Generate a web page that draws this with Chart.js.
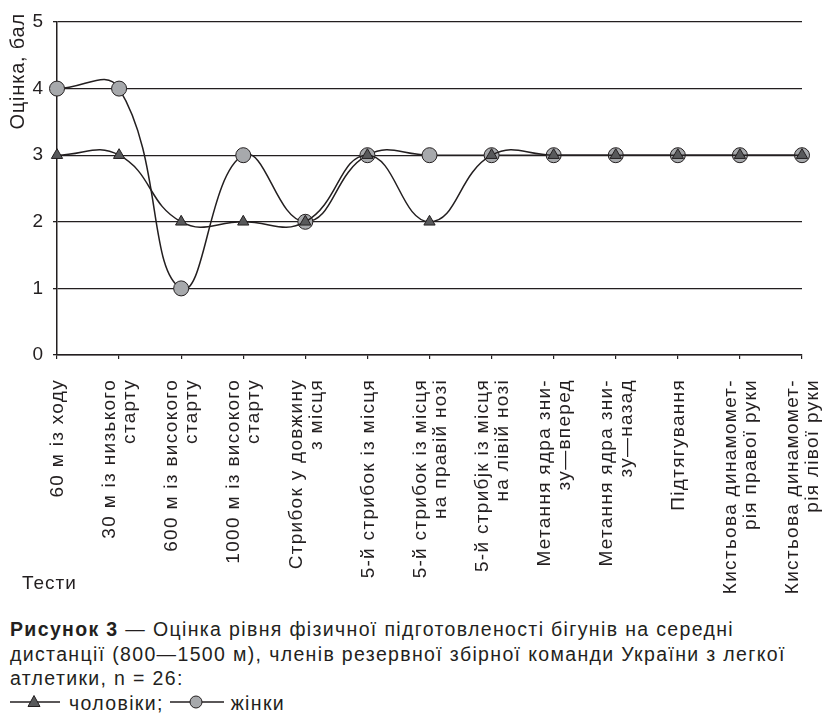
<!DOCTYPE html>
<html>
<head>
<meta charset="utf-8">
<script src="https://cdn.jsdelivr.net/npm/chart.js@4.4.1/dist/chart.umd.min.js"></script>
<style>
  html, body { margin: 0; padding: 0; background: #fff; }
  body { width: 834px; height: 716px; position: relative; overflow: hidden;
         font-family: "Liberation Sans", Arial, sans-serif; color: #231f20; }
  #wrap { position: absolute; left: 0; top: 0; width: 834px; height: 600px; }
  #xtitle { position: absolute; left: 22px; top: 572px; font-size: 19px; line-height: 22px; letter-spacing: 1px; }
  #caption { position: absolute; left: 10px; top: 617px; font-size: 19.5px; line-height: 24.5px; letter-spacing: 1.35px; white-space: nowrap; }
  #caption svg { vertical-align: middle; position: relative; top: -2px; }
</style>
</head>
<body>
<div id="wrap"><canvas id="c" width="834" height="600"></canvas></div>
<div id="xtitle">Тести</div>
<div id="caption"><b>Рисунок 3</b> — Оцінка рівня фізичної підготовленості бігунів на середні<br>дистанції (800—1500 м), членів резервної збірної команди України з легкої<br>атлетики, n = 26:<br><svg width="50" height="16"><line x1="0" y1="8" x2="50" y2="8" stroke="#231f20" stroke-width="1.5"/><polygon points="24,1.5 30,12.5 18,12.5" fill="#58595b" stroke="#231f20" stroke-width="1"/></svg><span style="margin-left:9px">чоловіки;</span><svg width="54" height="16" style="margin-left:6px"><line x1="0" y1="8" x2="54" y2="8" stroke="#231f20" stroke-width="1.5"/><circle cx="26" cy="8" r="6" fill="#a7a9ac" stroke="#231f20" stroke-width="1"/></svg><span style="margin-left:7px">жінки</span></div>
<script>
const categories = [
  ["60 м із ходу"],
  ["30 м із низького", "старту"],
  ["600 м із високого", "старту"],
  ["1000 м із високого", "старту"],
  ["Стрибок у довжину", "з місця"],
  ["5-й стрибок із місця"],
  ["5-й стрибок із місця", "на правій нозі"],
  ["5-й стрибјк із місця", "на лівій нозі"],
  ["Метання ядра зни-", "зу—вперед"],
  ["Метання ядра зни-", "зу—назад"],
  ["Підтягування"],
  ["Кистьова динамомет-", "рія правої руки"],
  ["Кистьова динамомет-", "рія лівої руки"]
];
const men   = [3, 3, 2, 2, 2, 3, 2, 3, 3, 3, 3, 3, 3];
const women = [4, 4, 1, 3, 2, 3, 3, 3, 3, 3, 3, 3, 3];
const yTicks = [0, 1, 2, 3, 4, 5];
const seriesNames = ["чоловіки", "жінки"];
const yTitle = "Оцінка, бал";

const INK = "#231f20";
const FONT = '"Liberation Sans", Arial, sans-serif';
const CANVAS_H = 600;
const AXIS_BOTTOM = 355;

const textPlugin = {
  id: "axisTexts",
  afterDraw(chart) {
    const xs = chart.scales.x;
    const ctx = chart.ctx;
    const lh = 20;
    ctx.save();
    ctx.fillStyle = INK;
    ctx.font = '19px ' + FONT;
    if ('letterSpacing' in ctx) ctx.letterSpacing = '1.3px';
    ctx.textAlign = "right";
    ctx.textBaseline = "middle";
    categories.forEach((lines, i) => {
      const x = xs.getPixelForValue(i);
      ctx.save();
      ctx.translate(x + 1, AXIS_BOTTOM + 24);
      ctx.rotate(-Math.PI / 2);
      lines.forEach((ln, j) => {
        ctx.fillText(ln, 0, (j - (lines.length - 1) / 2) * lh);
      });
      ctx.restore();
    });
    // y axis title
    ctx.font = '20px ' + FONT;
    if ('letterSpacing' in ctx) ctx.letterSpacing = '0.8px';
    ctx.save();
    ctx.translate(18, 13);
    ctx.rotate(-Math.PI / 2);
    ctx.fillText(yTitle, 0, 0);
    ctx.restore();
    ctx.restore();
  }
};

new Chart(document.getElementById("c"), {
  type: "line",
  data: {
    labels: categories,
    datasets: [
      {
        label: seriesNames[0],
        data: men,
        order: 0,
        borderColor: INK,
        borderWidth: 1.5,
        tension: 0.45,
        pointStyle: "triangle",
        pointRadius: 6.5,
        pointBackgroundColor: "#58595b",
        pointBorderColor: INK,
        pointBorderWidth: 1,
        clip: false
      },
      {
        label: seriesNames[1],
        data: women,
        order: 1,
        borderColor: INK,
        borderWidth: 1.5,
        tension: 0.45,
        pointStyle: "circle",
        pointRadius: 7.5,
        pointBackgroundColor: "#a7a9ac",
        pointBorderColor: INK,
        pointBorderWidth: 1,
        clip: false
      }
    ]
  },
  options: {
    responsive: false,
    animation: false,
    devicePixelRatio: 1,
    layout: { padding: { left: 0, right: 32, top: 22, bottom: 0 } },
    plugins: { legend: { display: false }, tooltip: { enabled: false } },
    scales: {
      x: {
        type: "category",
        offset: false,
        grid: { drawOnChartArea: false, drawTicks: true, tickLength: 4, color: INK, lineWidth: 1.2 },
        border: { color: INK, width: 1.5 },
        ticks: { display: false },
        afterFit(s) { s.height = CANVAS_H - AXIS_BOTTOM; }
      },
      y: {
        min: 0,
        max: 5,
        afterBuildTicks(s) { s.ticks = yTicks.map(v => ({ value: v })); },
        grid: { color: INK, lineWidth: 1.3, tickLength: 4 },
        border: { color: INK, width: 1.5 },
        ticks: { color: INK, padding: 10, font: { family: FONT, size: 19 } },
        title: { display: false, text: yTitle },
        afterFit(s) { s.width = 57; }
      }
    }
  },
  plugins: [textPlugin]
});
</script>
</body>
</html>
